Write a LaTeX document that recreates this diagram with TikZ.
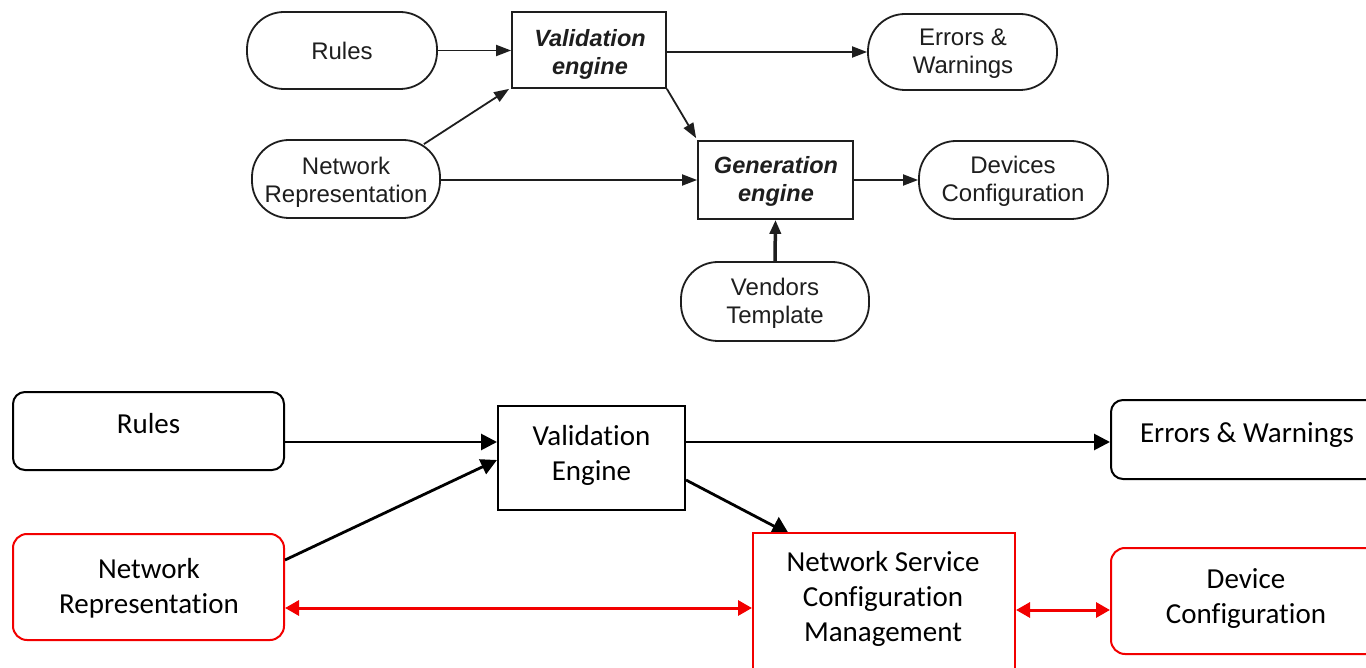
\documentclass[tikz,border=0pt]{standalone}
\usepackage{fontspec}
\setmainfont{Carlito}[Ligatures={NoCommon}]
\newfontfamily\arialf{Liberation Sans}
\usetikzlibrary{arrows.meta}
\pgfdeclarelayer{bglayer}
\pgfdeclarelayer{arrowlayer}
\pgfsetlayers{bglayer,arrowlayer,main}
\definecolor{myred}{HTML}{F20000}
\definecolor{topgray}{HTML}{1E1E1E}
\tikzset{
  tshape/.style={draw=topgray, line width=1.8pt, inner sep=0pt},
  tstad/.style={tshape, rounded corners=37pt},
  ttxt/.style={text=topgray, align=center, font=\arialf\fontsize{24}{28}\selectfont, inner sep=0pt},
  tarrow/.style={draw=topgray, line width=1.8pt, -{Triangle[length=15pt,width=11pt]}},
  bbox/.style={draw=black, line width=2pt, inner sep=0pt, fill=white},
  brbox/.style={bbox, rounded corners=12pt},
  redbox/.style={draw=myred, line width=2pt, inner sep=0pt, fill=white},
  redrbox/.style={redbox, rounded corners=14pt},
  btxt/.style={align=center, font=\fontsize{29}{35}\selectfont, inner sep=0pt},
  barrow/.style={draw=black, line width=2.8pt, -{Triangle[length=16pt,width=16pt]}},
  rarrow/.style={draw=myred, line width=3pt, {Triangle[length=14pt,width=15pt]}-{Triangle[length=14pt,width=15pt]}},
}
\begin{document}
\begin{tikzpicture}[x=1pt,y=-1pt]
\useasboundingbox (0,0) rectangle (1366,668);
\clip (0,0) rectangle (1366,668);
\begin{pgfonlayer}{bglayer}
\fill[white] (0,0) rectangle (1366,668);
\end{pgfonlayer}
% ---------- top diagram ----------
\node[tstad, minimum width=190pt, minimum height=77pt] (rulesT) at (342,50.5) {};
\node[tshape, minimum width=154pt, minimum height=76pt] (valT) at (589,50) {};
\node[tstad, minimum width=188pt, minimum height=78pt] (netT) at (346,179) {};
\node[tstad, minimum width=189pt, minimum height=76pt] (errT) at (962.5,52) {};
\node[tshape, minimum width=155pt, minimum height=78pt] (genT) at (775.5,180) {};
\node[tstad, minimum width=189pt, minimum height=78pt] (devT) at (1013.5,180) {};
\node[tstad, minimum width=188pt, minimum height=79pt] (venT) at (775,301.5) {};
\node[ttxt] (rulesTt) at (342,51) {Rules};
\node[ttxt, font=\arialf\bfseries\itshape\fontsize{23.5}{28}\selectfont] (valTt) at (590,54.5) {Validation\\engine};
\node[ttxt] (netTt) at (346,182.5) {Network\\Representation};
\node[ttxt] (errTt) at (963,54) {Errors \&\\Warnings};
\node[ttxt, font=\arialf\bfseries\itshape\fontsize{23.5}{28}\selectfont] (genTt) at (776,181.5) {Generation\\engine};
\node[ttxt] (devTt) at (1013,181.5) {Devices\\Configuration};
\node[ttxt] (venTt) at (775,303.5) {Vendors\\Template};
\draw[tarrow] (rulesT.east) -- (rulesT.east -| valT.west);
\draw[tarrow] (valT.east |- errT.west) -- (errT.west);
\draw[tarrow] ([xshift=-17pt,yshift=-5pt]netT.north east) -- ([xshift=-2pt]valT.south west);
\draw[tarrow] (netT.east |- genT.west) -- (genT.west);
\draw[tarrow] (valT.south east) -- ([xshift=-1pt,yshift=2pt]genT.north west);
\draw[tarrow] (genT.east) -- (genT.east -| devT.west);
\draw[tarrow, line width=3.5pt, -{Triangle[length=14pt,width=11pt]}] (venT.north) -- (genT.south);
% ---------- bottom diagram ----------
\node[brbox, minimum width=271pt, minimum height=78pt] (rulesB) at (148.5,431) {};
\node[bbox, minimum width=187pt, minimum height=104pt] (valB) at (591.5,458) {};
\node[brbox, minimum width=289pt, minimum height=79pt] (errB) at (1255.5,439.5) {};
\node[redrbox, minimum width=271pt, minimum height=106pt] (netB) at (148.5,587) {};
\node[redbox, minimum width=262pt, minimum height=167pt] (nscB) at (884,616.5) {};
\node[redrbox, minimum width=269pt, minimum height=106pt] (devB) at (1245.5,601) {};
\node[btxt] (rulesBt) at (148.5,424) {Rules};
\node[btxt] (valBt) at (591.5,455.5) {Validation\\Engine};
\node[btxt] (errBt) at (1247,435.5) {Errors \& Warnings};
\node[btxt] (netBt) at (149,588) {Network\\Representation};
\node[btxt] (nscBt) at (883,598.5) {Network Service\\Configuration\\Management};
\node[btxt] (devBt) at (1246,599) {Device\\Configuration};
\draw[barrow] ([yshift=-11pt]rulesB.east) -- ([yshift=-11pt]rulesB.east -| valB.west);
\draw[barrow] ([yshift=16pt]valB.east) -- ([yshift=16pt]valB.east -| errB.west);
\draw[barrow] ([yshift=27pt]netB.east) -- ([yshift=-2pt]valB.west);
\begin{pgfonlayer}{arrowlayer}
\draw[barrow, -{Triangle[length=17pt,width=20pt]}] ([yshift=-22pt]valB.east) -- ([xshift=37pt,yshift=-2pt]nscB.north west);
\end{pgfonlayer}
\draw[rarrow] ([yshift=-21pt]netB.east) -- ([yshift=-21pt]netB.east -| nscB.west);
\draw[rarrow] ([yshift=6.5pt]nscB.east) -- ([yshift=6.5pt]nscB.east -| devB.west);
\end{tikzpicture}
\end{document}
